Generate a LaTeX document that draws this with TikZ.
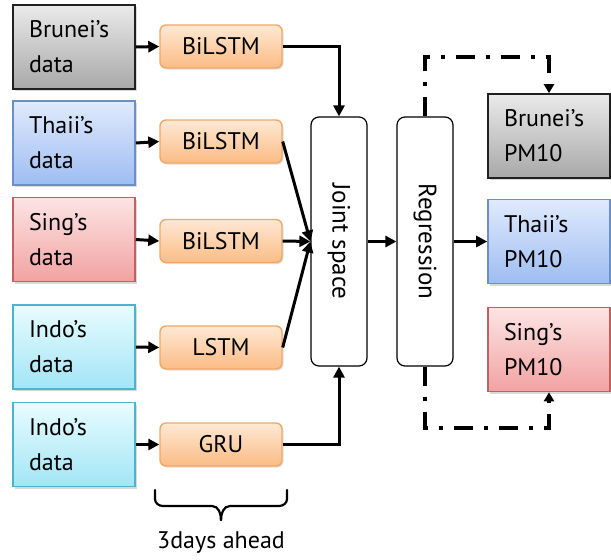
\documentclass[tikz,border=0pt]{standalone}
\usepackage{fontspec}
\setmainfont{PT Sans}
\usetikzlibrary{arrows.meta,shadows,calc}
\definecolor{grayT}{HTML}{EAEAEA}\definecolor{grayB}{HTML}{A8A8A8}\definecolor{grayL}{HTML}{202020}
\definecolor{blueT}{HTML}{E0EAFD}\definecolor{blueB}{HTML}{9EBDF2}\definecolor{blueL}{HTML}{6D8FC9}
\definecolor{redT}{HTML}{FDE4E4}\definecolor{redB}{HTML}{F2A2A2}\definecolor{redL}{HTML}{C06060}
\definecolor{cyanT}{HTML}{E8FCFF}\definecolor{cyanB}{HTML}{A2E5F6}\definecolor{cyanL}{HTML}{4EB3C8}
\definecolor{orT}{HTML}{FEE8D4}\definecolor{orB}{HTML}{FBBC84}\definecolor{orL}{HTML}{F0A868}
\tikzset{
  txt/.style={font=\fontsize{24}{35}\selectfont},
  databox/.style={txt, draw, line width=1.6pt, text width=90pt, align=left, inner xsep=16pt,
     minimum height=84pt, drop shadow={shadow xshift=2pt, shadow yshift=-2pt, opacity=0.3}},
  gray box/.style={databox, draw=grayL, top color=grayT, bottom color=grayB},
  blue box/.style={databox, draw=blueL, top color=blueT, bottom color=blueB},
  red box/.style={databox, draw=redL, top color=redT, bottom color=redB},
  cyan box/.style={databox, draw=cyanL, top color=cyanT, bottom color=cyanB},
  netbox/.style={txt, draw=orL, line width=1.4pt, rounded corners=6pt, top color=orT, bottom color=orB,
     minimum width=122pt, minimum height=43pt, inner sep=0pt,
     drop shadow={shadow xshift=1.5pt, shadow yshift=-1.5pt, opacity=0.25}},
  tallbox/.style={font=\fontsize{25}{30}\selectfont, draw, line width=1.2pt, rounded corners=8pt, fill=white, minimum width=56pt,
     minimum height=249pt, inner sep=0pt},
  arr/.style={line width=3pt, -{Triangle[length=11pt,width=11pt]}},
  ddarr/.style={line width=3.5pt, dash pattern=on 19pt off 11pt on 4pt off 11pt,
     -{Triangle[length=9pt,width=10pt]}},
}
\begin{document}
\begin{tikzpicture}[x=1pt,y=-1pt]
\useasboundingbox (0,0) rectangle (611,560);
% left data boxes
\node[gray box] (d1) at (74,47) {Brunei’s\\data};
\node[blue box] (d2) at (74,143) {Thaii’s\\data};
\node[red box]  (d3) at (74,239.5) {Sing’s\\data};
\node[cyan box] (d4) at (74,347) {Indo’s\\data};
\node[cyan box] (d5) at (74,444.5) {Indo’s\\data};
% networks
\node[netbox] (n1) at (221,46.5) {BiLSTM};
\node[netbox] (n2) at (221,141.5) {BiLSTM};
\node[netbox] (n3) at (221,241) {BiLSTM};
\node[netbox] (n4) at (221,347.5) {LSTM};
\node[netbox] (n5) at (221,444.5) {GRU};
% joint space and regression
\node[tallbox] (joint) at (339,241.5) {\rotatebox{-90}{Joint space}};
\node[tallbox] (reg) at (425,241.5) {\rotatebox{-90}{Regression}};
% outputs
\node[gray box] (p1) at (549,136) {Brunei’s\\PM10};
\node[blue box] (p2) at (549,241.5) {Thaii’s\\PM10};
\node[red box]  (p3) at (549,349.5) {Sing’s\\PM10};
% arrows data -> nets
\foreach \i in {1,...,5}{\draw[arr] (d\i.east) -- (n\i.west);}
% nets -> joint
\draw[arr] (n1.east) -| (joint.north);
\draw[arr] (n2.east) -- (joint.west);
\draw[arr] (n3.east) -- (joint.west);
\draw[arr] (n4.east) -- (joint.west);
\draw[arr] (n5.east) -| (joint.south);
% joint -> reg -> output
\draw[arr] (joint.east) -- (reg.west);
\draw[arr] (reg.east) -- (p2.west);
% dash-dot connectors
\coordinate (topy) at (0,57);
\coordinate (boty) at (0,428);
\draw[ddarr] (reg.north) -- (reg.north |- topy) -| (p1.north);
\draw[ddarr] (reg.south) -- (reg.south |- boty) -| (p3.south);
% brace
\node[txt, anchor=center] (ahead) at (221,543) {3days ahead};
\draw[line width=2.2pt, line cap=round] (155,490) -- (155,499) to[out=-90,in=180] (163,506) -- (212,506) to[out=0,in=90] (221,520);
\draw[line width=2.2pt, line cap=round] (287,490) -- (287,499) to[out=-90,in=0] (279,506) -- (230,506) to[out=180,in=90] (221,520);
\end{tikzpicture}
\end{document}
